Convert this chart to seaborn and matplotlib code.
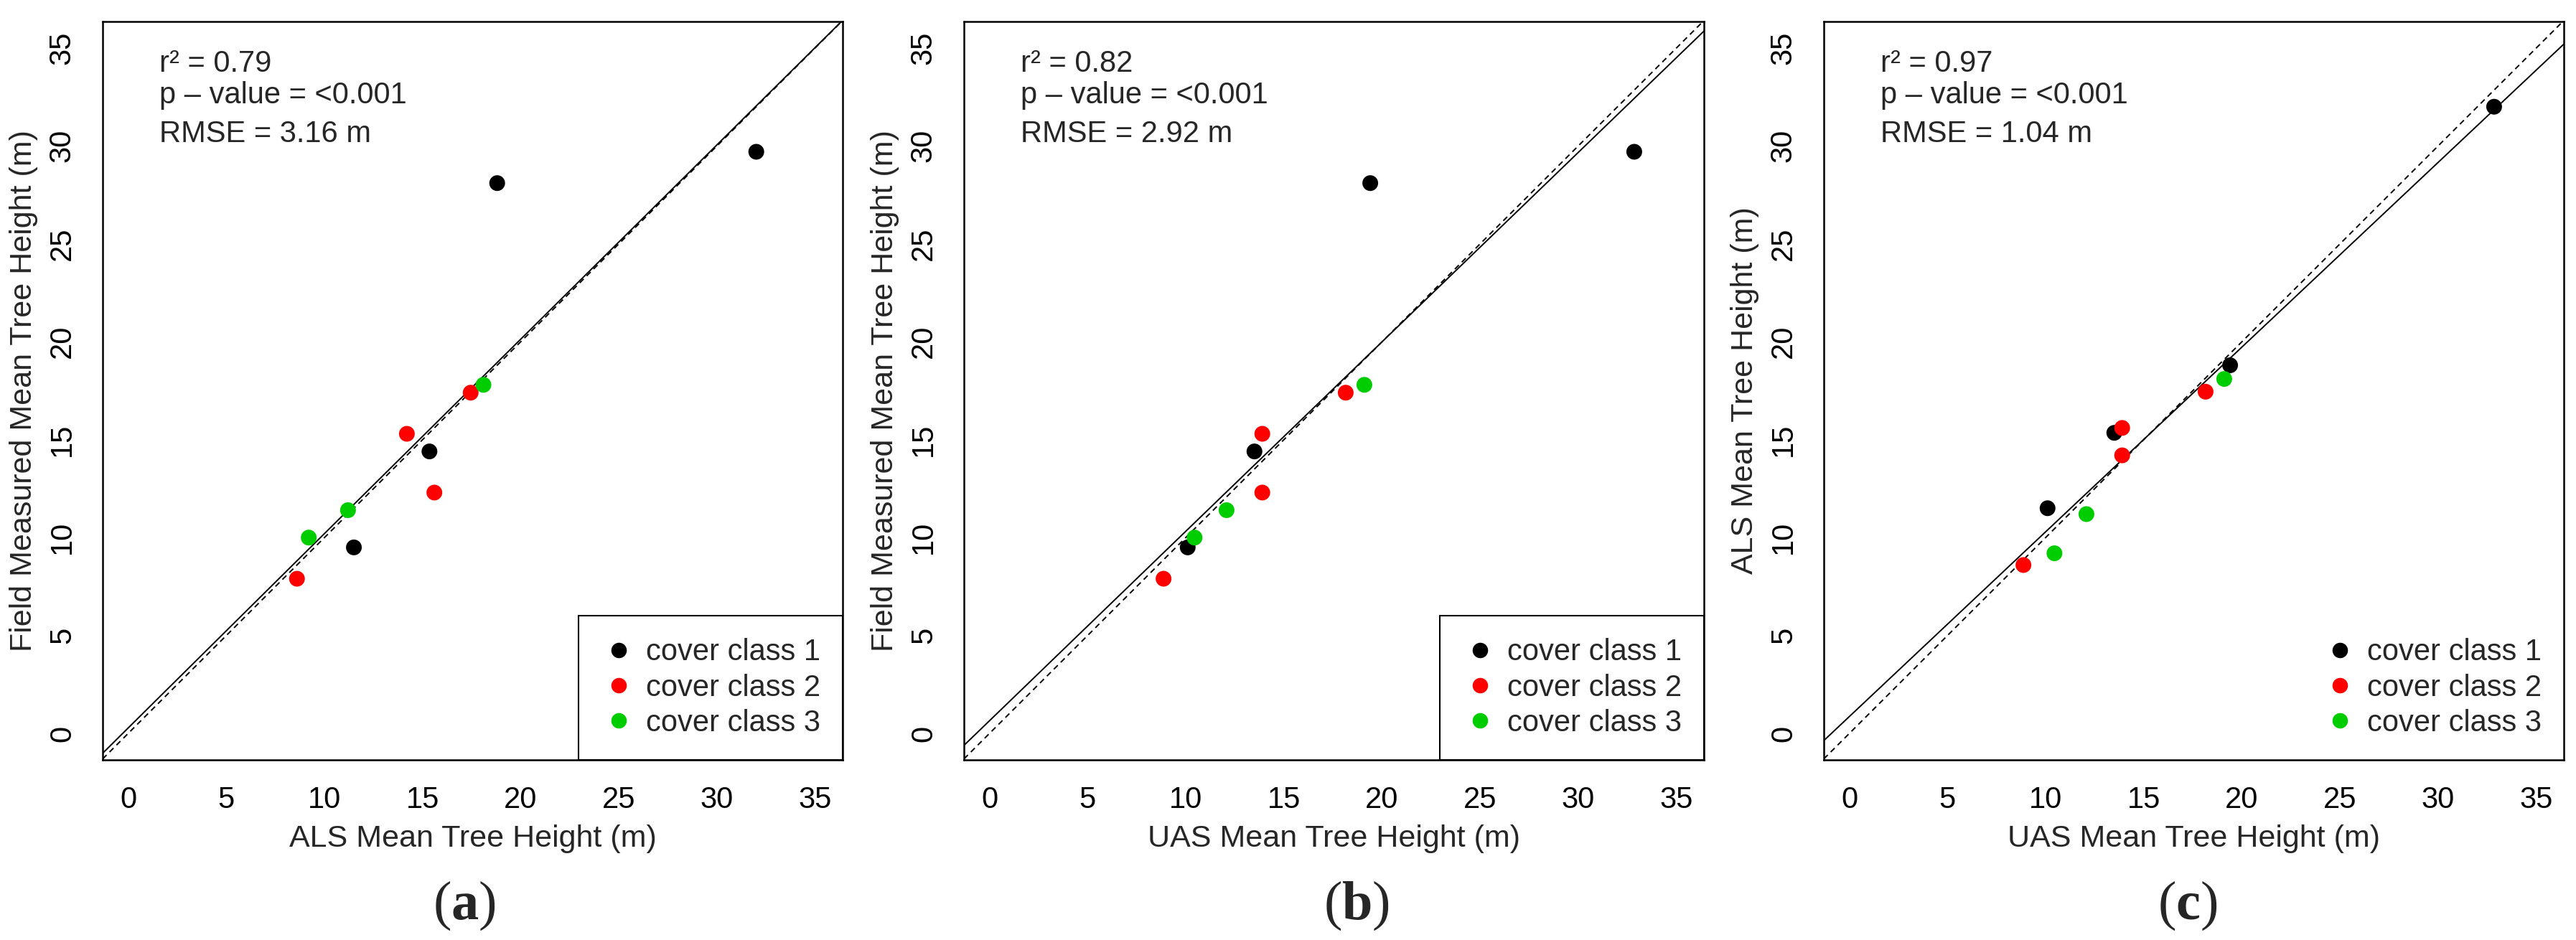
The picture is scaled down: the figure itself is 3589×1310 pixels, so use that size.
import numpy as np
import pandas as pd
import matplotlib.pyplot as plt
import seaborn as sns

# values (one entry per plot)
cover_class = ["cover class 1"] * 4 + ["cover class 2"] * 4 + ["cover class 3"] * 3
field_height = [29.7, 28.1, 14.4, 9.5, 17.4, 15.3, 12.3, 7.9, 17.8, 11.4, 10.0]
als_height = [32.0, 18.8, 15.35, 11.5, 17.45, 14.2, 15.6, 8.6, 18.1, 11.2, 9.2]
uas_height = [32.85, 19.4, 13.5, 10.1, 18.15, 13.9, 13.9, 8.87, 19.1, 12.08, 10.45]

r2_values = ["0.79", "0.82", "0.97"]
rmse_values = ["3.16", "2.92", "1.04"]
panel_letters = ["a", "b", "c"]
x_labels = ["ALS Mean Tree Height (m)", "UAS Mean Tree Height (m)", "UAS Mean Tree Height (m)"]
y_labels = ["Field Measured Mean Tree Height (m)", "Field Measured Mean Tree Height (m)",
            "ALS Mean Tree Height (m)"]
tick_values = [0, 5, 10, 15, 20, 25, 30, 35]

df = pd.DataFrame({"cover": cover_class, "field": field_height,
                   "als": als_height, "uas": uas_height})
pairs = [("als", "field"), ("uas", "field"), ("uas", "als")]

sns.set_style("white")
plt.rcParams["font.family"] = ["Liberation Sans", "DejaVu Sans"]
plt.rcParams["mathtext.fontset"] = "custom"
plt.rcParams["mathtext.rm"] = "Liberation Serif"
plt.rcParams["mathtext.bf"] = "Liberation Serif:bold"

palette = {"cover class 1": "black", "cover class 2": "#ff0000", "cover class 3": "#00cd00"}

W, H = 3589, 1310
fig = plt.figure(figsize=(W / 100, H / 100), dpi=100)

ax_left = [143, 1343, 2541]
letter_x = [647, 1890, 3048]
ax_top, ax_bottom, ax_w = 30, 1059, 1031

for i, (xcol, ycol) in enumerate(pairs):
    ax = fig.add_axes([ax_left[i] / W, 1 - ax_bottom / H, ax_w / W, (ax_bottom - ax_top) / H])
    ax.set_xlim(-1.3, 36.4)
    ax.set_ylim(-1.35, 36.35)

    # 1:1 line
    ax.axline((0, 0), slope=1, color="black", lw=1.4, ls=(0, (4, 3)), zorder=1)
    # fitted regression line
    sns.regplot(data=df, x=xcol, y=ycol, scatter=False, ci=None, truncate=False,
                color="black", line_kws={"lw": 1.4, "zorder": 2}, ax=ax)
    sns.scatterplot(data=df, x=xcol, y=ycol, hue="cover", palette=palette, s=250,
                    linewidth=0, ax=ax, zorder=3)
    ax.set_xlim(-1.3, 36.4)
    ax.set_ylim(-1.35, 36.35)

    handles, labels = ax.get_legend_handles_labels()
    leg = ax.legend(handles, labels, loc="lower right", bbox_to_anchor=(1, 0),
                    borderaxespad=0, fontsize=30, frameon=(i < 2), fancybox=False,
                    edgecolor="black", framealpha=1, handletextpad=0.3,
                    handlelength=1.2, labelspacing=0.22, borderpad=0.75)
    leg.get_frame().set_linewidth(1.5)
    for h in leg.legend_handles:
        h.set_markersize(15.5)

    for s in ax.spines.values():
        s.set_visible(True)
        s.set_color("black")
        s.set_linewidth(1.8)

    ax.set_xticks(tick_values)
    ax.set_yticks(tick_values)
    ax.tick_params(axis="both", direction="out", length=18, width=1.4,
                   labelsize=30, color="black", labelcolor="black")
    ax.tick_params(axis="x", pad=8)
    ax.tick_params(axis="y", pad=8, labelrotation=90)
    for lbl in ax.get_yticklabels():
        lbl.set_va("center")

    ax.set_xlabel(x_labels[i], fontsize=31, labelpad=10)
    ax.set_ylabel(y_labels[i], fontsize=31, labelpad=10)

    ax.text(0.077, 0.943, "r\u00b2 = " + r2_values[i], transform=ax.transAxes,
            fontsize=30, va="center", ha="left")
    ax.text(0.077, 0.900, "p \u2013 value = <0.001", transform=ax.transAxes,
            fontsize=30, va="center", ha="left")
    ax.text(0.077, 0.847, "RMSE = " + rmse_values[i] + " m", transform=ax.transAxes,
            fontsize=30, va="center", ha="left")

    fig.text(letter_x[i] / W, 1 - 1262 / H,
             r"$\mathrm{(}\mathbf{" + panel_letters[i] + r"}\mathrm{)}$",
             fontsize=55, ha="center", va="center")

fig.savefig("out.png", dpi=100, facecolor="white")
